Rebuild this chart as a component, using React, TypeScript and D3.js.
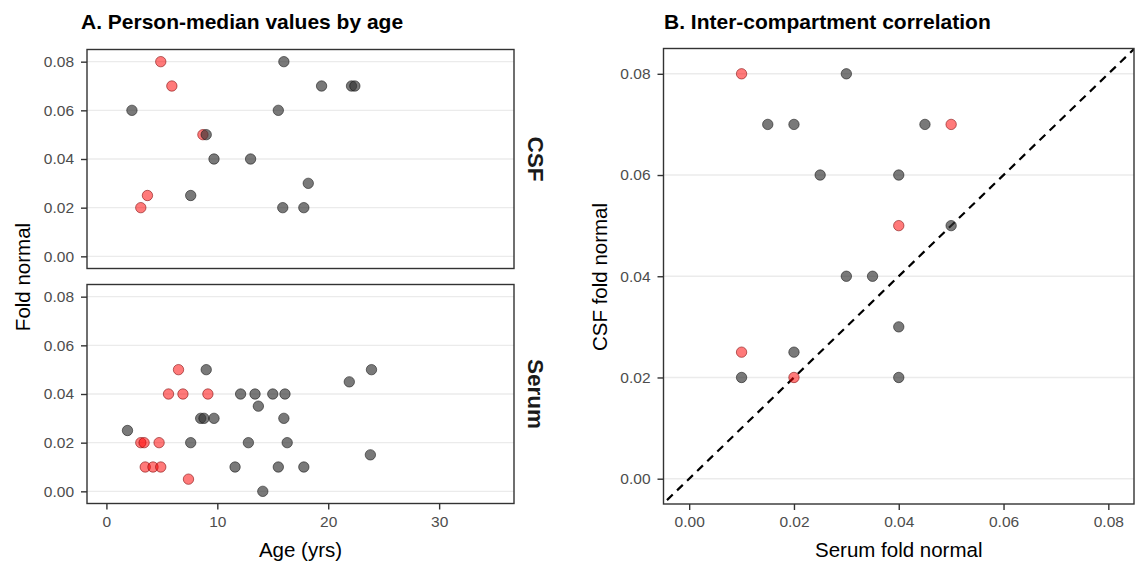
import { useEffect, useRef } from "react";
import * as d3 from "d3";

// Panel A, CSF: age (yrs) vs person-median fold normal
const csfAge = [4.9, 5.9, 8.7, 3.7, 3.1, 16.0, 19.4, 22.1, 22.4, 2.3, 15.5, 9.0, 9.7, 13.0, 18.2, 7.6, 15.9, 17.8];
const csfVal = [0.08, 0.07, 0.05, 0.025, 0.02, 0.08, 0.07, 0.07, 0.07, 0.06, 0.06, 0.05, 0.04, 0.04, 0.03, 0.025, 0.02, 0.02];
const csfRed = [true, true, true, true, true, false, false, false, false, false, false, false, false, false, false, false, false, false];

// Panel A, Serum
const serumAge = [6.5, 5.6, 6.9, 9.15, 3.1, 3.4, 4.75, 3.5, 4.2, 4.9, 7.4,
  9.0, 23.9, 21.9, 12.1, 13.4, 15.0, 16.1, 13.7, 8.5, 8.8, 9.7, 16.0, 1.9, 7.6, 12.8, 16.3, 23.8, 11.6, 15.5, 17.8, 14.1];
const serumVal = [0.05, 0.04, 0.04, 0.04, 0.02, 0.02, 0.02, 0.01, 0.01, 0.01, 0.005,
  0.05, 0.05, 0.045, 0.04, 0.04, 0.04, 0.04, 0.035, 0.03, 0.03, 0.03, 0.03, 0.025, 0.02, 0.02, 0.02, 0.015, 0.01, 0.01, 0.01, 0.0];
const serumRed = [true, true, true, true, true, true, true, true, true, true, true,
  false, false, false, false, false, false, false, false, false, false, false, false, false, false, false, false, false, false, false, false, false];

// Panel B: serum vs CSF per person
const pairSerum = [0.01, 0.03, 0.015, 0.02, 0.045, 0.05, 0.025, 0.04, 0.04, 0.05, 0.03, 0.035, 0.04, 0.01, 0.02, 0.01, 0.02, 0.04];
const pairCsf = [0.08, 0.08, 0.07, 0.07, 0.07, 0.07, 0.06, 0.06, 0.05, 0.05, 0.04, 0.04, 0.03, 0.025, 0.025, 0.02, 0.02, 0.02];
const pairRed = [true, false, false, false, false, true, false, false, true, false, false, false, false, true, false, false, true, false];

const ageTicks = [0, 10, 20, 30];
const foldTicks = [0, 0.02, 0.04, 0.06, 0.08];

const FONT = "'Liberation Sans', Arial, sans-serif";

const App = () => {
  const svgRef = useRef<SVGSVGElement | null>(null);

  useEffect(() => {
    const svg = d3.select(svgRef.current);
    svg.selectAll("*").remove();

    const fmt = d3.format(".2f");
    const yDomain: [number, number] = [-0.005, 0.085];

    const dot = (g: any, xs: number[], ys: number[], red: boolean[], x: any, y: any) => {
      g.selectAll("circle.pt")
        .data(xs.map((v, i) => ({ x: v, y: ys[i], r: red[i] })))
        .enter()
        .append("circle")
        .attr("class", "pt")
        .attr("cx", (d: any) => x(d.x))
        .attr("cy", (d: any) => y(d.y))
        .attr("r", 5.2)
        .attr("fill", (d: any) => (d.r ? "#ff0000" : "#333333"))
        .attr("fill-opacity", (d: any) => (d.r ? 0.52 : 0.66))
        .attr("stroke", (d: any) => (d.r ? "#7a0000" : "#111111"))
        .attr("stroke-opacity", 0.55)
        .attr("stroke-width", 1);
    };

    const grid = (g: any, y: any, x0: number, x1: number) => {
      g.selectAll("line.grid")
        .data(foldTicks)
        .enter()
        .append("line")
        .attr("x1", x0)
        .attr("x2", x1)
        .attr("y1", (d: number) => y(d))
        .attr("y2", (d: number) => y(d))
        .attr("stroke", "#ebebeb")
        .attr("stroke-width", 1.4);
    };

    const styleAxis = (g: any) => {
      g.select(".domain").remove();
      g.selectAll(".tick line").attr("stroke", "#333333").attr("stroke-width", 1.4);
      g.selectAll(".tick text")
        .attr("fill", "#4d4d4d")
        .style("font-family", FONT)
        .style("font-size", "15.5px");
    };

    const border = (x0: number, x1: number, y0: number, y1: number) => {
      svg
        .append("rect")
        .attr("x", x0)
        .attr("y", y0)
        .attr("width", x1 - x0)
        .attr("height", y1 - y0)
        .attr("fill", "none")
        .attr("stroke", "#333333")
        .attr("stroke-width", 1.4);
    };

    // ---------- Panel A ----------
    const ax = d3.scaleLinear().domain([-1.75, 36.75]).range([87, 514]);
    const panels = [
      { name: "CSF", top: 49.5, bottom: 268.5, xs: csfAge, ys: csfVal, red: csfRed },
      { name: "Serum", top: 284.5, bottom: 503.5, xs: serumAge, ys: serumVal, red: serumRed },
    ];

    panels.forEach((p, i) => {
      const y = d3.scaleLinear().domain(yDomain).range([p.bottom, p.top]);
      const g = svg.append("g");
      grid(g, y, ax.range()[0], ax.range()[1]);
      dot(g, p.xs, p.ys, p.red, ax, y);
      border(ax.range()[0], ax.range()[1], p.top, p.bottom);

      svg
        .append("g")
        .attr("transform", `translate(${ax.range()[0]},0)`)
        .call(d3.axisLeft(y).tickValues(foldTicks).tickFormat((d: any) => fmt(d)).tickSize(6).tickPadding(7))
        .call(styleAxis);

      svg
        .append("text")
        .attr("transform", `translate(536,${(p.top + p.bottom) / 2}) rotate(90)`)
        .attr("text-anchor", "middle")
        .attr("dy", "0.35em")
        .style("font-family", FONT)
        .style("font-size", "22.5px")
        .style("font-weight", "bold")
        .attr("fill", "#1a1a1a")
        .text(p.name);

      if (i === 1) {
        svg
          .append("g")
          .attr("transform", `translate(0,${p.bottom})`)
          .call(d3.axisBottom(ax).tickValues(ageTicks).tickSize(6).tickPadding(6))
          .call(styleAxis);
      }
    });

    svg
      .append("text")
      .attr("x", 81)
      .attr("y", 29)
      .style("font-family", FONT)
      .style("font-size", "21px")
      .style("font-weight", "bold")
      .text("A. Person-median values by age");

    svg
      .append("text")
      .attr("x", (ax.range()[0] + ax.range()[1]) / 2)
      .attr("y", 557)
      .attr("text-anchor", "middle")
      .style("font-family", FONT)
      .style("font-size", "20.5px")
      .text("Age (yrs)");

    svg
      .append("text")
      .attr("transform", "translate(30,277) rotate(-90)")
      .attr("text-anchor", "middle")
      .style("font-family", FONT)
      .style("font-size", "20.5px")
      .text("Fold normal");

    // ---------- Panel B ----------
    const bx = d3.scaleLinear().domain([-0.0049, 0.0849]).range([663.5, 1134]);
    const by = d3.scaleLinear().domain(yDomain).range([504, 48.5]);
    const gb = svg.append("g");
    grid(gb, by, bx.range()[0], bx.range()[1]);

    gb.append("clipPath")
      .attr("id", "clipB")
      .append("rect")
      .attr("x", bx.range()[0])
      .attr("y", by.range()[1])
      .attr("width", bx.range()[1] - bx.range()[0])
      .attr("height", by.range()[0] - by.range()[1]);

    const diag = [-0.01, 0.1];
    gb.append("path")
      .datum(diag)
      .attr("clip-path", "url(#clipB)")
      .attr("fill", "none")
      .attr("stroke", "#000")
      .attr("stroke-width", 2.2)
      .attr("stroke-dasharray", "8,6")
      .attr(
        "d",
        d3
          .line<number>()
          .x((d) => bx(d))
          .y((d) => by(d))
      );

    dot(gb, pairSerum, pairCsf, pairRed, bx, by);
    border(bx.range()[0], bx.range()[1], by.range()[1], by.range()[0]);

    svg
      .append("g")
      .attr("transform", `translate(${bx.range()[0]},0)`)
      .call(d3.axisLeft(by).tickValues(foldTicks).tickFormat((d: any) => fmt(d)).tickSize(6).tickPadding(7))
      .call(styleAxis);

    svg
      .append("g")
      .attr("transform", `translate(0,${by.range()[0]})`)
      .call(d3.axisBottom(bx).tickValues(foldTicks).tickFormat((d: any) => fmt(d)).tickSize(6).tickPadding(6))
      .call(styleAxis);

    svg
      .append("text")
      .attr("x", 664)
      .attr("y", 29)
      .style("font-family", FONT)
      .style("font-size", "21px")
      .style("font-weight", "bold")
      .text("B. Inter-compartment correlation");

    svg
      .append("text")
      .attr("x", (bx.range()[0] + bx.range()[1]) / 2)
      .attr("y", 557)
      .attr("text-anchor", "middle")
      .style("font-family", FONT)
      .style("font-size", "20.5px")
      .text("Serum fold normal");

    svg
      .append("text")
      .attr("transform", "translate(607,277) rotate(-90)")
      .attr("text-anchor", "middle")
      .style("font-family", FONT)
      .style("font-size", "20.5px")
      .text("CSF fold normal");
  }, []);

  return (
    <svg
      ref={svgRef}
      width={1135}
      height={565}
      style={{ position: "absolute", left: 0, top: 0, background: "#fff" }}
    />
  );
};

export default App;
